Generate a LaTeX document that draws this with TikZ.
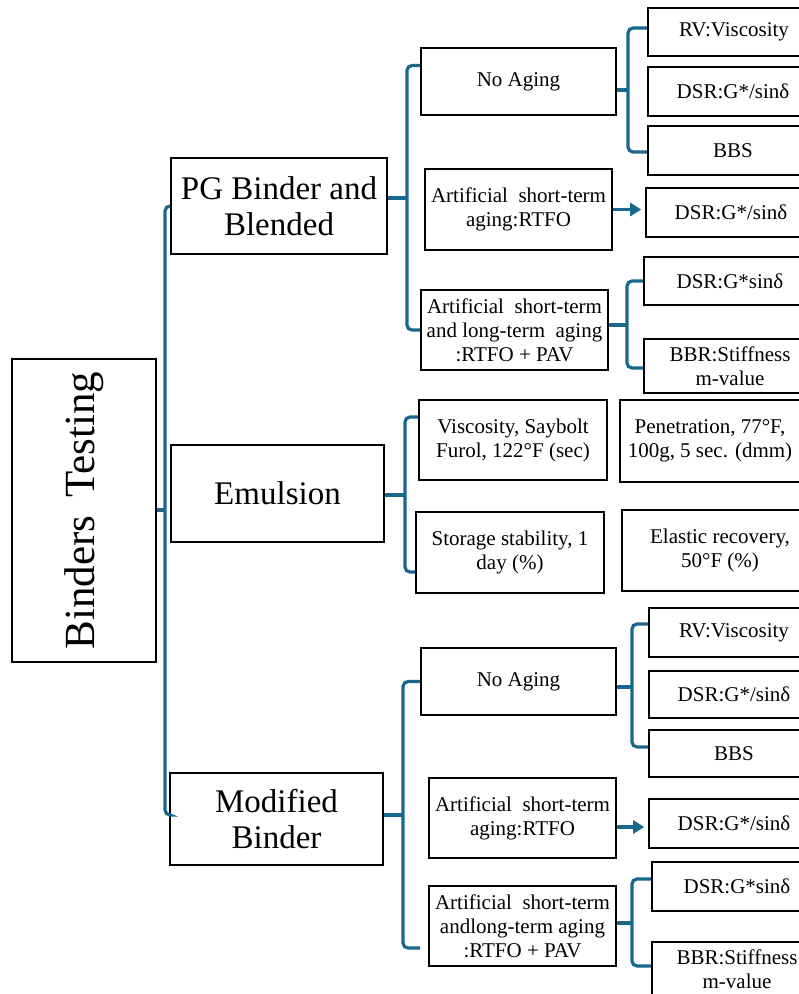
\documentclass[tikz,border=0pt]{standalone}
\usepackage{fontspec}
\setmainfont{Liberation Serif}
\usetikzlibrary{arrows.meta}
\definecolor{bracecol}{RGB}{24,104,142}

\begin{document}
\begin{tikzpicture}[x=1pt, y=-1pt,
	box/.style={draw, line width=1.6pt, align=center, inner sep=0pt},
	big/.style={font=\fontsize{33}{36}\selectfont},
	small/.style={font=\fontsize{21}{24}\selectfont},
	brace/.style={draw=bracecol, line width=3.2pt, rounded corners=5pt},
	flow/.style={bracecol, line width=3.2pt, -{Triangle[length=11pt,width=13pt]}, shorten >=4pt}]
	\useasboundingbox (0,0) rectangle (799,994);

	\node[box, minimum width=144, minimum height=303] (bt) at (84,510.5) {};
	\node[rotate=90, font=\fontsize{43}{46}\selectfont] (btlabel) at (bt.center) {Binders\, Testing};

	\node[box, big, minimum width=216, minimum height=96] (pg) at (279,206) {PG Binder and\\Blended};
	\node[box, big, minimum width=213, minimum height=97] (em) at (277.5,493.5) {Emulsion};
	\node[box, big, minimum width=213, minimum height=92] (mb) at (276.5,819) {Modified\\Binder};

	\node[box, small, minimum width=195, minimum height=67] (na1) at (518.5,81.5) {No Aging};
	\node[box, small, minimum width=187, minimum height=81] (rt1) at (518.5,209.5) {Artificial\enspace short-term\\aging:RTFO};
	\node[box, small, minimum width=187, minimum height=80] (lt1) at (514.5,330) {Artificial\enspace short-term\\and long-term\enspace aging\\:RTFO + PAV};

	\node[box, small, minimum width=172, minimum height=48] (rv1) at (734,32) {RV:Viscosity};
	\node[box, small, minimum width=170, minimum height=49] (ds1) at (733,91.5) {DSR:G*/sinδ};
	\node[box, small, minimum width=170, minimum height=49] (bbs1) at (733,150.5) {BBS};
	\node[box, small, minimum width=170, minimum height=49] (dg1) at (731,212.5) {DSR:G*/sinδ};
	\node[box, small, minimum width=172, minimum height=48] (gs1) at (730,281) {DSR:G*sinδ};
	\node[box, small, minimum width=172, minimum height=54] (bbr1) at (730,366) {BBR:Stiffness\\m-value};

	\node[box, small, minimum width=188, minimum height=80] (vs) at (513,440) {Viscosity, Saybolt\\Furol, 122°F (sec)};
	\node[box, small, minimum width=180, minimum height=82] (pen) at (710,441) {Penetration, 77°F,\\100g, 5 sec. (dmm)};
	\node[box, small, minimum width=188, minimum height=81] (ss) at (510,552.5) {Storage stability, 1\\day (\%)};
	\node[box, small, minimum width=196, minimum height=81] (er) at (720,550.5) {Elastic recovery,\\50°F (\%)};

	\node[box, small, minimum width=195, minimum height=67] (na2) at (518.5,681.5) {No Aging};
	\node[box, small, minimum width=187, minimum height=80] (rt2) at (522.5,818) {Artificial\enspace short-term\\aging:RTFO};
	\node[box, small, minimum width=187, minimum height=80] (lt2) at (522.5,926) {Artificial\enspace short-term\\andlong-term aging\\:RTFO + PAV};

	\node[box, small, minimum width=170, minimum height=49] (rv2) at (734,632.5) {RV:Viscosity};
	\node[box, small, minimum width=170, minimum height=47] (ds2) at (734,694.5) {DSR:G*/sinδ};
	\node[box, small, minimum width=170, minimum height=47] (bbs2) at (734,753.5) {BBS};
	\node[box, small, minimum width=170, minimum height=49] (dg2) at (734,823.5) {DSR:G*/sinδ};
	\node[box, small, minimum width=170, minimum height=49] (gs2) at (737,886.5) {DSR:G*sinδ};
	\node[box, small, minimum width=170, minimum height=54] (bbr2) at (737,969) {BBR:Stiffness\\m-value};

	\coordinate (m0) at (165,510);
	\coordinate (m1) at (407,198);
	\coordinate (m2) at (405,495);
	\coordinate (m3) at (403,815);
	\coordinate (n1) at (628,90);
	\coordinate (l1) at (627,325);
	\coordinate (n2) at (632,687);
	\coordinate (l2) at (632,923);
	\coordinate (a2) at ([yshift=-9pt]rt2.east);

	\draw[brace] (bt.east |- m0) -- (m0);
	\draw[brace] (pg.west) -| (m0) |- ([yshift=4pt]mb.west);

	\draw[brace] (pg.east |- m1) -- (m1);
	\draw[brace] ([yshift=16pt]na1.west) -| (m1) |- (lt1.west);
	\draw[brace] (em.east |- m2) -- (m2);
	\draw[brace] ([yshift=23pt]vs.west) -| (m2) |- ([yshift=-19.5pt]ss.west);
	\draw[brace] (mb.east |- m3) -- (m3);
	\draw[brace] (na2.west) -| (m3) |- ([xshift=-8pt, yshift=-22pt]lt2.west);

	\draw[brace] (na1.east |- n1) -- (n1);
	\draw[brace] ([yshift=4pt]rv1.west) -| (n1) |- ([yshift=-1.5pt]bbs1.west);
	\draw[brace] (lt1.east |- l1) -- (l1);
	\draw[brace] (gs1.west) -| (l1) |- ([yshift=-2pt]bbr1.west);
	\draw[brace] (na2.east |- n2) -- (n2);
	\draw[brace] ([yshift=8.5pt]rv2.west) -| (n2) |- ([yshift=6.5pt]bbs2.west);
	\draw[brace] (lt2.east |- l2) -- (l2);
	\draw[brace] ([yshift=7.5pt]gs2.west) -| (l2) |- ([yshift=3pt]bbr2.west);

	\draw[flow] (rt1.east) -- (rt1.east -| dg1.west);
	\draw[flow] (a2) -- (a2 -| dg2.west);
\end{tikzpicture}
\end{document}
